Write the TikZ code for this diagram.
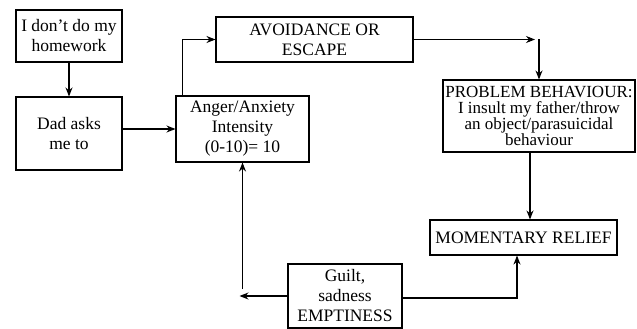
\documentclass[tikz,border=0pt]{standalone}
\usepackage{fontspec}
\setmainfont{Liberation Serif}
\usetikzlibrary{arrows.meta, positioning, calc}

\begin{document}
\begin{tikzpicture}[x=1pt, y=-1pt,
        box/.style={draw, line width=1.1pt, align=center, inner sep=1pt, font=\fontsize{17.5}{20}\selectfont},
        tightbox/.style={box, font=\fontsize{17}{16}\selectfont},
        arr/.style={-{Stealth[length=9pt, width=7pt]}, line width=1.1pt},
    ]
        \useasboundingbox (0,0) rectangle (637,329);
        \node[box, minimum width=106pt, minimum height=52pt] (homework) at (69,36) {I don’t do my\\homework};
        \node[box, minimum width=106pt, minimum height=73pt] (dad) at (69,133.5) {Dad asks\\me to};
        \node[box, minimum width=133pt, minimum height=66pt] (anger) at (242.5,129) {Anger/Anxiety\\Intensity\\(0-10)= 10};
        \node[box, minimum width=197pt, minimum height=45pt] (avoid) at (314.5,39.5) {AVOIDANCE OR\\ESCAPE};
        \node[tightbox, minimum width=192pt, minimum height=72pt] (problem) at (539,116) {PROBLEM BEHAVIOUR:\\I insult my father/throw\\an object/parasuicidal\\behaviour};
        \node[box, minimum width=187pt, minimum height=35pt] (relief) at (523.5,237.5) {MOMENTARY RELIEF};
        \node[box, minimum width=114pt, minimum height=64pt] (guilt) at (345,296) {Guilt,\\sadness\\EMPTINESS};

        % Turning points
        \coordinate (turnA) at (problem.north |- avoid.east);
        \coordinate (turnB) at (anger.south |- guilt.west);

        % Main flow
        \draw[arr] (homework) -- (dad);
        \draw[arr] (anger.west -| dad.east) -- (anger.west);
        \draw[arr] ($(anger.north west)+(7,0)$) |- (avoid.west);
        \draw[arr] (avoid.east) -- ([xshift=-4pt]turnA);
        \draw[arr] (turnA) -- (problem.north);
        \draw[arr] ([xshift=-9pt]problem.south) -- ([xshift=-9pt]problem.south |- relief.north);

        % Back loop
        \draw[arr] ([yshift=-2pt]guilt.east) -| ([xshift=-6.5pt]relief.south);
        \draw[arr] (guilt.west) -- ([xshift=-3pt]turnB);
        \draw[arr] ([yshift=7pt]turnB) -- (anger.south);
    \end{tikzpicture}
\end{document}
